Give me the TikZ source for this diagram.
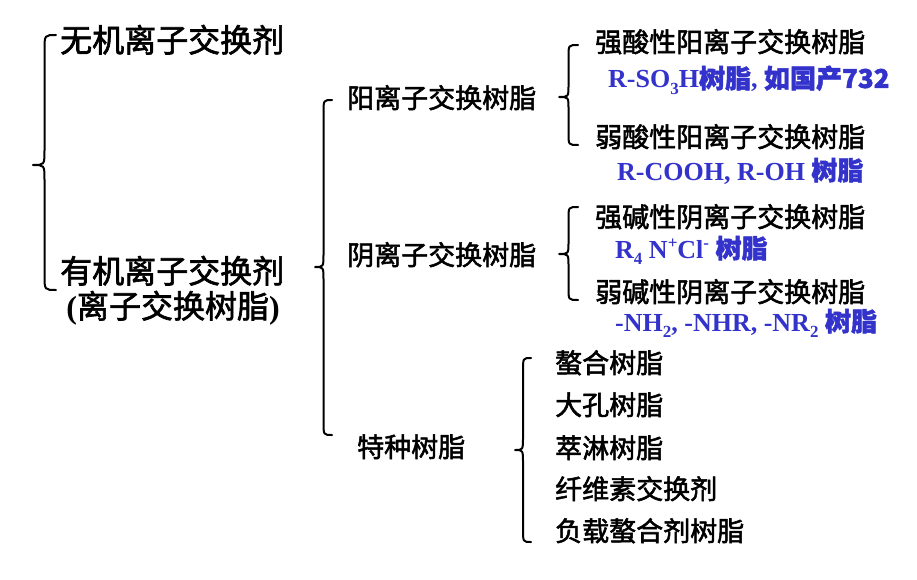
\documentclass[tikz,border=0pt]{standalone}
\usepackage{fontspec}
\setmainfont{Liberation Serif}
\newfontfamily\cjk[FakeBold=2]{Noto Sans CJK SC}
\newfontfamily\cjkb[FakeBold=1.8]{Noto Sans CJK SC}
\definecolor{blu}{RGB}{51,51,204}
\newcommand\sbx[1]{\raisebox{-0.25em}{\fontsize{17}{17}\selectfont #1}}
\newcommand\spx[1]{\raisebox{0.38em}{\fontsize{17}{17}\selectfont #1}}
\newcommand\mybrace[6]{% tip x, end x, top y, mid y, bot y, radius
  \pgfmathsetmacro\bv{(#1+#2)/2}
  \draw[bracestyle] (#2,#3) .. controls (\bv,#3) .. (\bv,{#3+#6})
    -- (\bv,{#4-#6}) .. controls (\bv,#4) .. (#1,#4)
    .. controls (\bv,#4) .. (\bv,{#4+#6})
    -- (\bv,{#5-#6}) .. controls (\bv,#5) .. (#2,#5);}
\tikzset{
  bracestyle/.style={line width=2pt, line cap=round, line join=round},
  lone/.style={anchor=base west, inner sep=0pt, font=\cjk\fontsize{32}{32}\selectfont},
  ltwo/.style={anchor=base west, inner sep=0pt, font=\cjk\fontsize{27}{27}\selectfont},
  bl/.style={anchor=base west, inner sep=0pt, text=blu, font=\bfseries\fontsize{26}{26}\selectfont}
}
\begin{document}
\begin{tikzpicture}[x=1pt,y=-1pt]
\useasboundingbox[fill=white] (0,0) rectangle (917,580);
% level 1
\node[lone] (inorg) at (60,52) {无机离子交换剂};
\node[lone] (org) at (60,283) {有机离子交换剂};
\node[anchor=base, inner sep=0pt, font=\cjk\fontsize{32}{32}\selectfont] (orgb) at (173,318) {{\rmfamily\bfseries(}离子交换树脂{\rmfamily\bfseries)}};
\mybrace{33}{56}{35}{165}{290}{15}
% level 2
\node[ltwo] (cat) at (347,108) {阳离子交换树脂};
\node[ltwo] (ani) at (347,265) {阴离子交换树脂};
\node[ltwo] (spe) at (357,457) {特种树脂};
\mybrace{315}{332}{100}{267}{435}{13}
% cation
\node[ltwo] (sac) at (595,52) {强酸性阳离子交换树脂};
\node[bl] (sacx) at (608,88) {R-SO\sbx{3}H{\cjkb 树脂}, {\cjkb 如国产732}};
\node[ltwo] (wac) at (595,147) {弱酸性阳离子交换树脂};
\node[bl] (wacx) at (617,180) {R-COOH, R-OH {\cjkb 树脂}};
\mybrace{559}{578}{45}{97}{145}{12}
% anion
\node[ltwo] (sba) at (595,227) {强碱性阴离子交换树脂};
\node[bl] (sbax) at (615,258) {R\sbx{4} N\spx{+}Cl\spx{-} {\cjkb 树脂}};
\node[ltwo] (wba) at (595,302) {弱碱性阴离子交换树脂};
\node[bl] (wbax) at (615,331) {-NH\sbx{2}, -NHR, -NR\sbx{2} {\cjkb 树脂}};
\mybrace{559}{578}{207}{254}{300}{12}
% special
\node[ltwo] (s1) at (555,373) {螯合树脂};
\node[ltwo] (s2) at (555,415) {大孔树脂};
\node[ltwo] (s3) at (555,458) {萃淋树脂};
\node[ltwo] (s4) at (555,499) {纤维素交换剂};
\node[ltwo] (s5) at (555,541) {负载螯合剂树脂};
\mybrace{515}{531}{358}{450}{542}{13}
\end{tikzpicture}
\end{document}
